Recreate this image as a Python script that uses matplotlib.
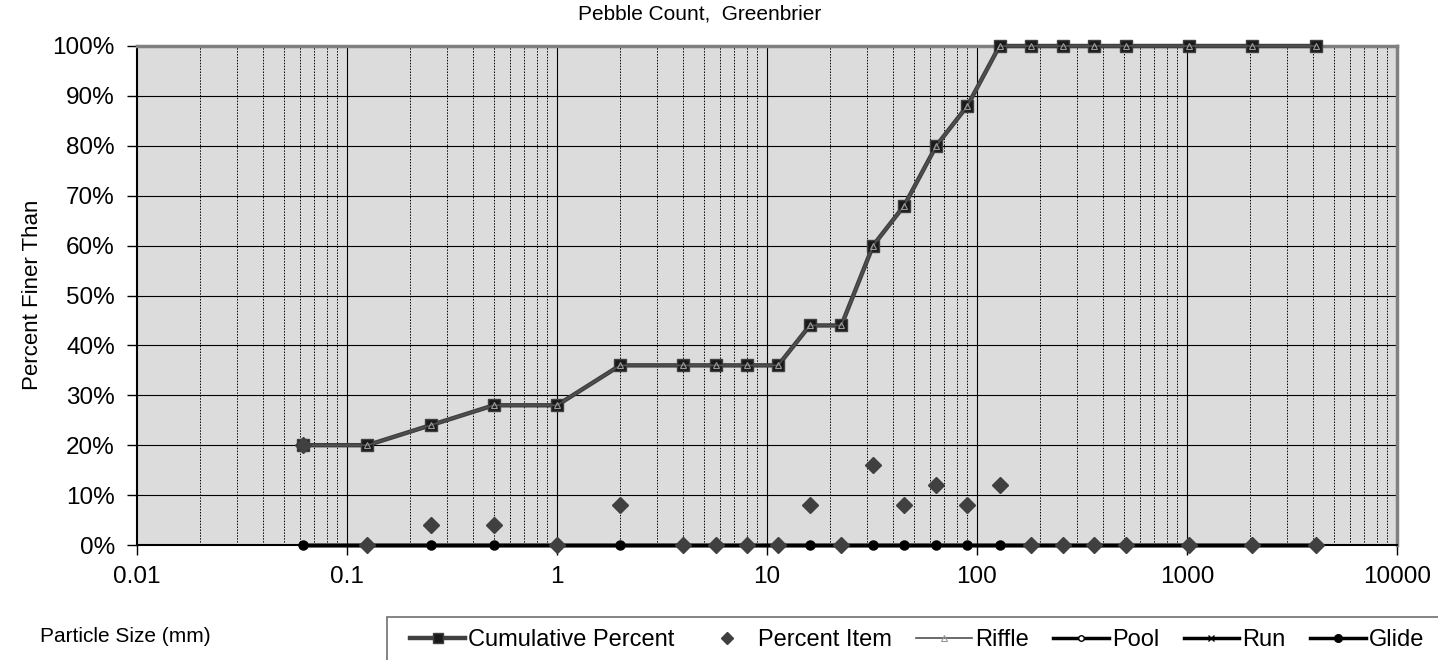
import numpy as np
import matplotlib
matplotlib.use("Agg")
import matplotlib.pyplot as plt
from matplotlib.patches import Rectangle
from matplotlib.ticker import FixedLocator, FuncFormatter, NullFormatter

plt.rcParams['font.family'] = ['Liberation Sans', 'DejaVu Sans']

# particle size classes (mm)
sizes = [0.062, 0.125, 0.25, 0.5, 1, 2, 4, 5.7, 8, 11.3, 16, 22.6, 32, 45,
         64, 90, 128, 180, 256, 362, 512, 1024, 2048, 4096]
cumulative = [20, 20, 24, 28, 28, 36, 36, 36, 36, 36, 44, 44, 60, 68,
              80, 88, 100, 100, 100, 100, 100, 100, 100, 100]
item = [20, 0, 4, 4, 0, 8, 0, 0, 0, 0, 8, 0, 16, 8,
        12, 8, 12, 0, 0, 0, 0, 0, 0, 0]
riffle = cumulative
pool = [0] * len(sizes)
run = [0] * len(sizes)
glide = [0] * len(sizes)

x_ticks = [0.01, 0.1, 1, 10, 100, 1000, 10000]
y_ticks = list(range(0, 101, 10))

W, H = 1438, 660
fig = plt.figure(figsize=(W / 100, H / 100), dpi=100)
ax = fig.add_axes([137 / W, 1 - 545 / H, (1397 - 137) / W, (545 - 46) / H])
ax.set_facecolor('#dcdcdc')

ax.set_xscale('log')
ax.set_xlim(0.01, 10000)
ax.set_ylim(0, 100)

# grid: solid decades, dotted in between, solid horizontal
minor = [m * 10.0 ** e for e in range(-2, 4) for m in range(2, 10)]
for v in minor:
    ax.axvline(v, color='black', lw=0.7, ls=(0, (1.5, 1.5)), zorder=1)
for v in x_ticks[1:-1]:
    ax.axvline(v, color='black', lw=0.8, zorder=1)
for v in y_ticks[1:-1]:
    ax.axhline(v, color='black', lw=0.8, zorder=1)

ax.plot(sizes, cumulative, color='#404040', lw=3.2, marker='s', ms=8,
        mfc='#1a1a1a', mec='#404040', zorder=4, label='Cumulative Percent', clip_on=False)
ax.plot(sizes, item, ls='none', marker='D', ms=8.5, color='#404040',
        zorder=6, label='Percent Item', clip_on=False)
ax.plot(sizes, riffle, color='#505050', lw=1.2, marker='^', ms=4.5,
        mfc='none', mec='#9a9a9a', mew=0.8, zorder=5, label='Riffle', clip_on=False)
ax.plot(sizes, pool, color='black', lw=2.5, marker='o', ms=4,
        mfc='white', mec='black', zorder=3, label='Pool', clip_on=False)
ax.plot(sizes, run, color='black', lw=2.5, marker='x', ms=4,
        mec='black', zorder=3, label='Run', clip_on=False)
ax.plot(sizes, glide, color='black', lw=2.5, marker='o', ms=6.5,
        zorder=5, label='Glide', clip_on=False)

ax.xaxis.set_major_locator(FixedLocator(x_ticks))
ax.xaxis.set_minor_locator(FixedLocator(minor))
ax.xaxis.set_minor_formatter(NullFormatter())
ax.xaxis.set_major_formatter(FuncFormatter(lambda v, p: f"{v:g}"))
ax.yaxis.set_major_locator(FixedLocator(y_ticks))
ax.yaxis.set_major_formatter(FuncFormatter(lambda v, p: f"{v:.0f}%"))
ax.tick_params(axis='both', which='major', direction='out', length=7, width=1,
               labelsize=17.5, color='black')
ax.tick_params(axis='x', which='minor', length=0)
ax.tick_params(axis='x', pad=8)
ax.tick_params(axis='y', pad=9)

for side in ['top', 'right']:
    ax.spines[side].set_color('#808080')
    ax.spines[side].set_linewidth(2.5)
ax.spines['left'].set_linewidth(1.5)
ax.spines['bottom'].set_linewidth(1.5)

fig.text(700 / W, 1 - 14 / H, 'Pebble Count,  Greenbrier', ha='center', va='center', fontsize=15)
fig.text(33 / W, 1 - 295 / H, 'Percent Finer Than', ha='center', va='center',
         rotation=90, fontsize=16)
fig.text(125 / W, 1 - 637 / H, 'Particle Size (mm)', ha='center', va='center', fontsize=15)

# legend box runs off the bottom and right edge of the figure
fig.patches.append(Rectangle((387 / W, -0.1), 1.0, 1 - 617 / H + 0.1,
                             transform=fig.transFigure, fill=False,
                             edgecolor='#707070', lw=1.2))
leg = fig.legend(loc='center left', bbox_to_anchor=(410 / W, 1 - 640 / H), ncol=6,
                 fontsize=17, frameon=False,
                 handlelength=2.35, handletextpad=0.12, columnspacing=1.05,
                 borderpad=0, borderaxespad=0)
# smaller markers in the legend keys
for h, ms in zip(leg.legend_handles, [6.5, 6, 4, 4, 4, 5.5]):
    h.set_markersize(ms)

fig.savefig('out.png', dpi=100)
